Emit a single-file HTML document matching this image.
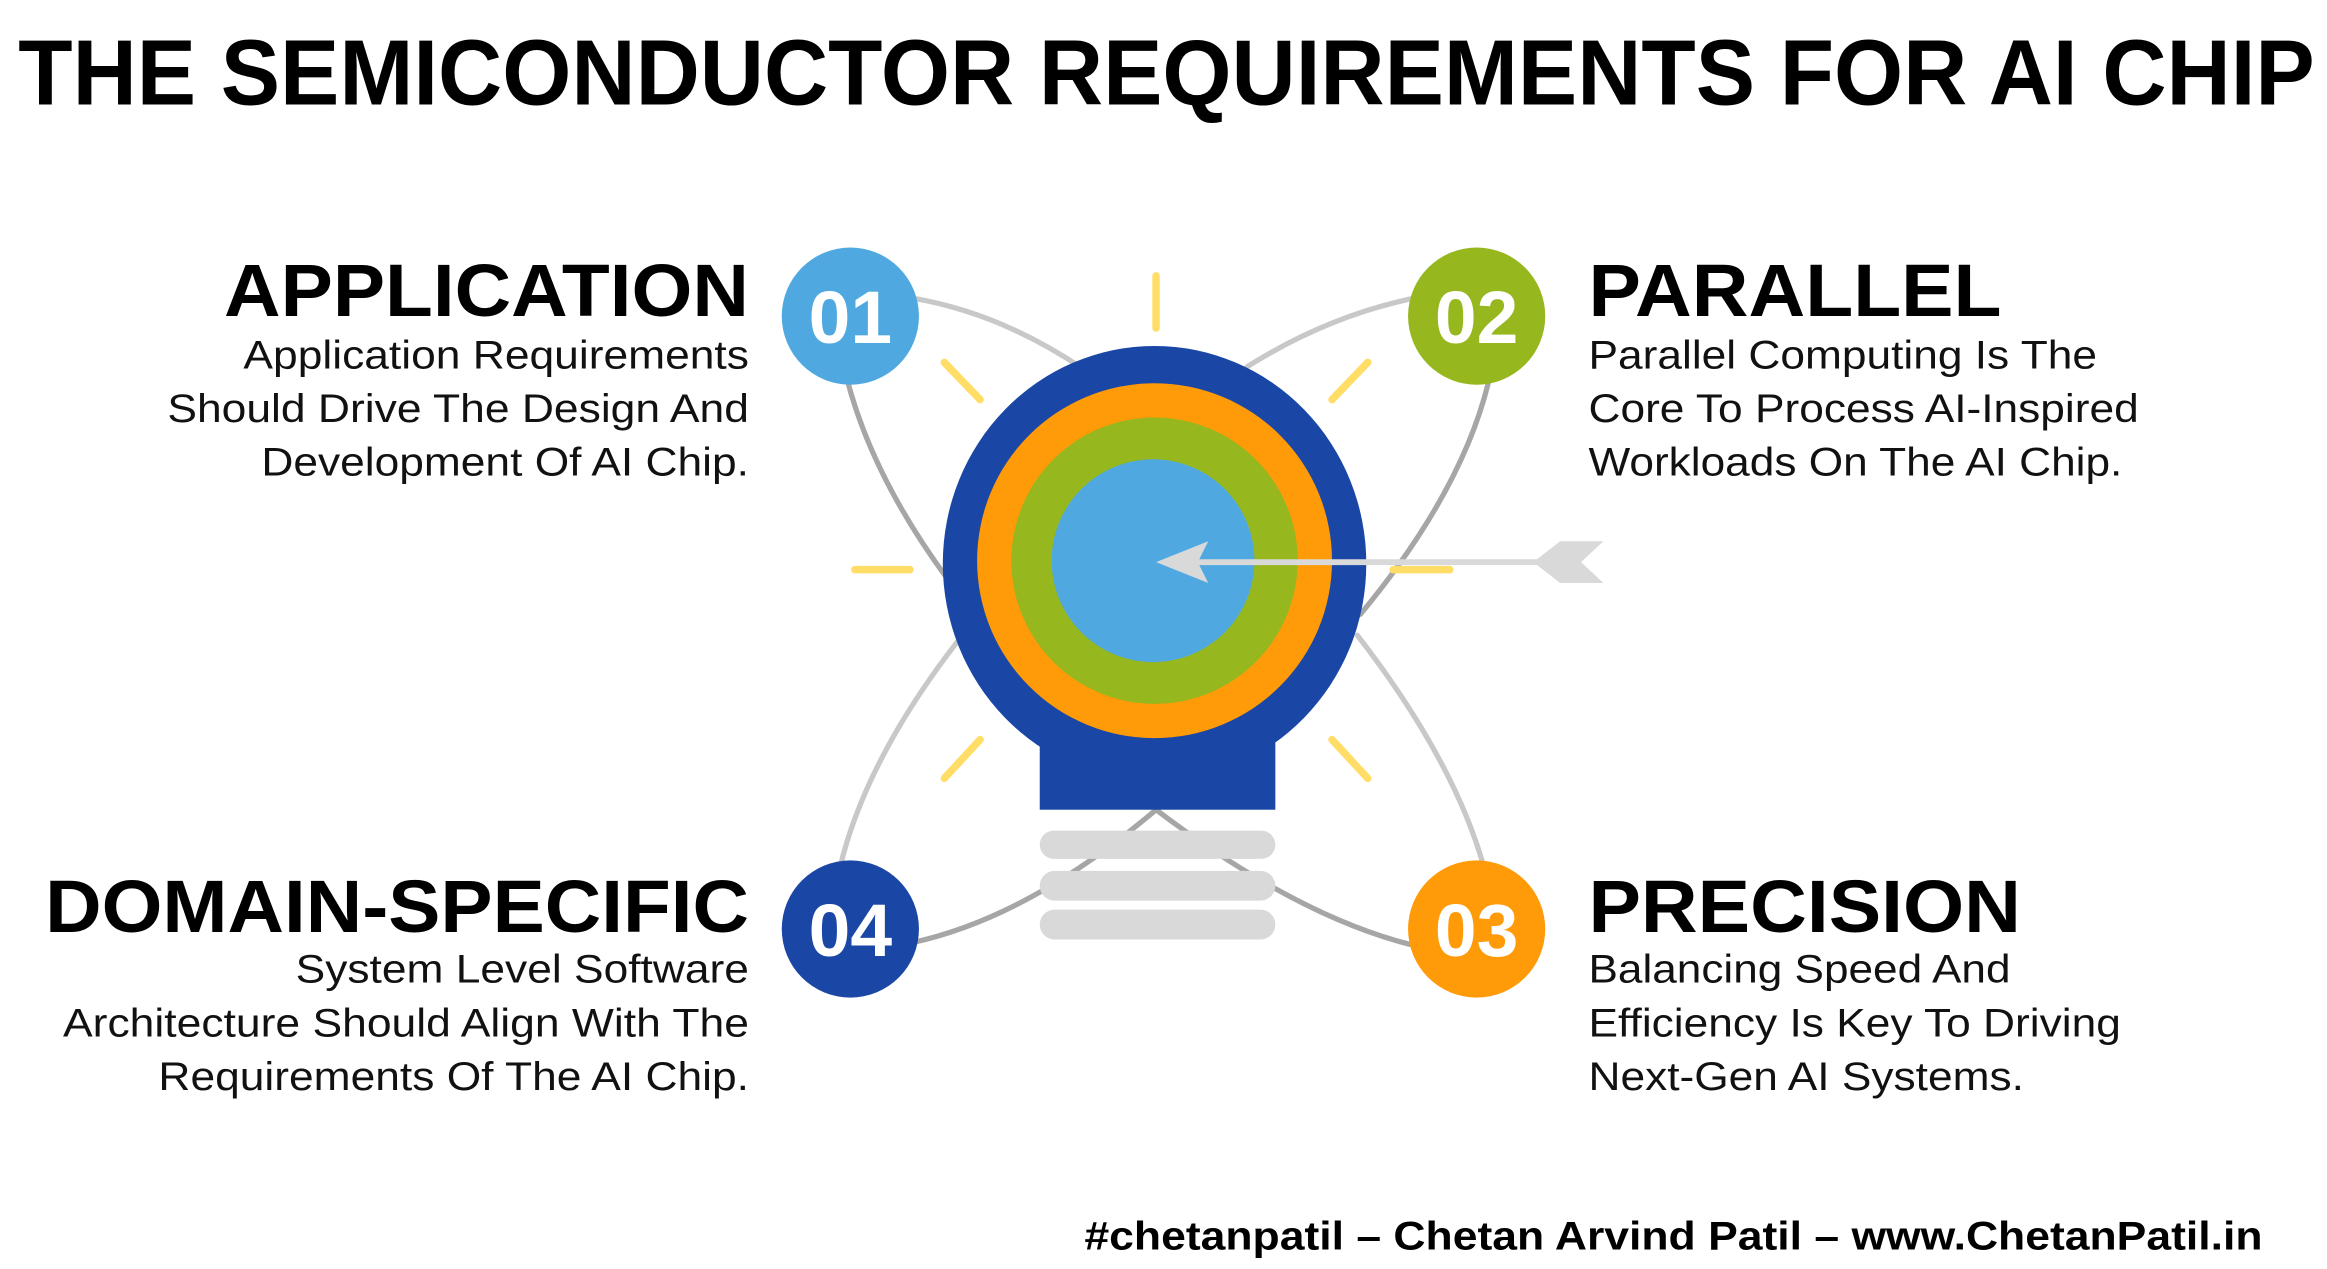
<!DOCTYPE html>
<html><head><meta charset="utf-8"><style>html,body{margin:0;padding:0;background:#fff}svg{display:block}</style></head><body>
<svg width="2327" height="1269" viewBox="0 0 1560 851" xmlns="http://www.w3.org/2000/svg" font-family="Liberation Sans, Arial, sans-serif">
<rect width="1560" height="851" fill="#fff"/>
<text x="12" y="70" font-size="62" font-weight="bold" textLength="1540" lengthAdjust="spacingAndGlyphs">THE SEMICONDUCTOR REQUIREMENTS FOR AI CHIP</text>
<g fill="none" stroke-width="3.5" stroke-linecap="round">
<path d="M612,200 Q670,210 724,246" stroke="#C8C8C8"/>
<path d="M568,255 Q585,320 635,388" stroke="#A6A6A6"/>
<path d="M910,426 Q975,510 995,582" stroke="#C8C8C8"/>
<path d="M775,543 Q870,615 948,634" stroke="#A6A6A6"/>
<path d="M948,200 Q890,212 836,246" stroke="#C8C8C8"/>
<path d="M998,256 Q980,330 912,412" stroke="#A6A6A6"/>
<path d="M642,430 Q580,510 563,582" stroke="#C8C8C8"/>
<path d="M775,543 Q690,615 612,632" stroke="#A6A6A6"/>
</g>
<g stroke="#FFDD66" stroke-width="5" stroke-linecap="round">
<line x1="775" y1="185" x2="775" y2="220"/>
<line x1="633" y1="243" x2="657" y2="268"/>
<line x1="917" y1="243" x2="893" y2="268"/>
<line x1="573" y1="382" x2="610" y2="382"/>
<line x1="934" y1="382" x2="972" y2="382"/>
<line x1="657" y1="496" x2="633" y2="522"/>
<line x1="893" y1="496" x2="917" y2="522"/>
</g>
<rect x="697" y="470" width="158" height="73" fill="#1A47A6"/>
<ellipse cx="774" cy="378" rx="142" ry="146" fill="#1A47A6"/>
<ellipse cx="774" cy="376" rx="119" ry="119" fill="#FF9A08"/>
<ellipse cx="774" cy="376" rx="96" ry="96" fill="#97B71E"/>
<ellipse cx="773" cy="376" rx="68" ry="68" fill="#4FA9E0"/>
<g fill="#D9D9D9">
<rect x="697" y="557" width="158" height="19" rx="9.5"/>
<rect x="697" y="584" width="158" height="20" rx="10"/>
<rect x="697" y="610" width="158" height="20" rx="10"/>
</g>
<line x1="800" y1="377" x2="1035" y2="377" stroke="#D9D9D9" stroke-width="4"/>
<polygon points="775,377 810,363 803,377 810,391" fill="#D9D9D9"/>
<polygon points="1028,377 1046,363 1075,363 1060,377 1075,391 1046,391" fill="#D9D9D9"/>
<circle cx="570" cy="212" r="46" fill="#4FA9E0"/>
<circle cx="990" cy="212" r="46" fill="#97B71E"/>
<circle cx="570" cy="623" r="46" fill="#1A47A6"/>
<circle cx="990" cy="623" r="46" fill="#FF9A08"/>
<g fill="#fff" font-size="50" font-weight="bold">
<text x="542" y="230" textLength="56" lengthAdjust="spacingAndGlyphs">01</text><text x="962" y="230" textLength="56" lengthAdjust="spacingAndGlyphs">02</text>
<text x="542" y="641" textLength="56" lengthAdjust="spacingAndGlyphs">04</text><text x="962" y="641" textLength="56" lengthAdjust="spacingAndGlyphs">03</text>
</g>
<g font-weight="bold" font-size="50" fill="#000">
<text x="150" y="212" textLength="352" lengthAdjust="spacingAndGlyphs">APPLICATION</text>
<text x="1065" y="212" textLength="277" lengthAdjust="spacingAndGlyphs">PARALLEL</text>
<text x="30" y="625" textLength="472" lengthAdjust="spacingAndGlyphs">DOMAIN-SPECIFIC</text>
<text x="1065" y="625" textLength="290" lengthAdjust="spacingAndGlyphs">PRECISION</text>
</g>
<g font-size="27" fill="#111">
<text x="163" y="247" textLength="339" lengthAdjust="spacingAndGlyphs">Application Requirements</text>
<text x="112" y="283" textLength="390" lengthAdjust="spacingAndGlyphs">Should Drive The Design And</text>
<text x="175" y="319" textLength="327" lengthAdjust="spacingAndGlyphs">Development Of AI Chip.</text>
<text x="1065" y="247" textLength="341" lengthAdjust="spacingAndGlyphs">Parallel Computing Is The</text>
<text x="1065" y="283" textLength="369" lengthAdjust="spacingAndGlyphs">Core To Process AI-Inspired</text>
<text x="1065" y="319" textLength="358" lengthAdjust="spacingAndGlyphs">Workloads On The AI Chip.</text>
<text x="198" y="659" textLength="304" lengthAdjust="spacingAndGlyphs">System Level Software</text>
<text x="42" y="695" textLength="460" lengthAdjust="spacingAndGlyphs">Architecture Should Align With The</text>
<text x="106" y="731" textLength="396" lengthAdjust="spacingAndGlyphs">Requirements Of The AI Chip.</text>
<text x="1065" y="659" textLength="283" lengthAdjust="spacingAndGlyphs">Balancing Speed And</text>
<text x="1065" y="695" textLength="357" lengthAdjust="spacingAndGlyphs">Efficiency Is Key To Driving</text>
<text x="1065" y="731" textLength="292" lengthAdjust="spacingAndGlyphs">Next-Gen AI Systems.</text>
</g>
<text x="727" y="838" font-size="27" font-weight="bold" textLength="790" lengthAdjust="spacingAndGlyphs">#chetanpatil – Chetan Arvind Patil – www.ChetanPatil.in</text>
</svg>
</body></html>
